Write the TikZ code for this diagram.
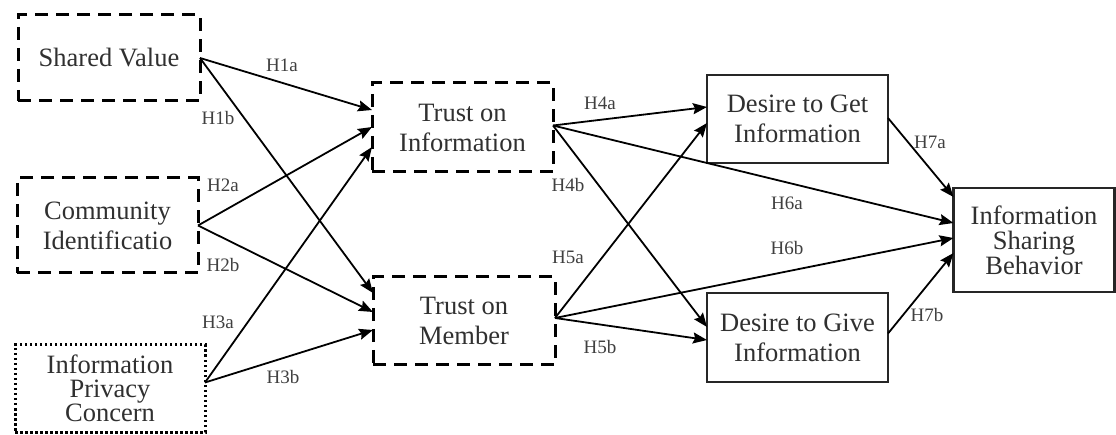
\documentclass[tikz,border=0pt]{standalone}
\usepackage{fontspec}
\setmainfont{Liberation Serif}
\usetikzlibrary{arrows.meta}
\definecolor{txt}{HTML}{303030}
\definecolor{lbl}{HTML}{404040}
\tikzset{
  basebox/.style={rectangle, inner sep=0pt, outer sep=0pt, align=center, text=txt,
    font=\fontsize{26.5}{30}\selectfont},
  dbox/.style={basebox, draw=black, line width=3pt, dash pattern=on 13pt off 8pt},
  pbox/.style={basebox, draw=black, line width=3pt, dash pattern=on 2.5pt off 2.5pt},
  sbox/.style={basebox, draw=black!85, line width=2.2pt},
  arr/.style={draw=black, line width=1.8pt, -{Stealth[length=14pt,width=11pt,inset=2pt]}},
  hlab/.style={text=lbl, font=\fontsize{19}{20}\selectfont, inner sep=0pt}
}
\begin{document}
\begin{tikzpicture}[x=1pt,y=-1pt]
\useasboundingbox[fill=white] (0,0) rectangle (1116,435);
% boxes
\node[dbox, minimum width=182pt, minimum height=86pt] (sv) at (109,58) {Shared Value};
\node[dbox, minimum width=181pt, minimum height=95pt] (ci) at (107.5,225.5) {Community\\Identificatio};
\node[pbox, minimum width=190pt, minimum height=87pt, font=\fontsize{26.5}{24}\selectfont] (ipc) at (110,388.5) {Information\\Privacy\\Concern};
\node[dbox, minimum width=181pt, minimum height=89pt] (ti) at (462.5,127.5) {Trust on\\Information};
\node[dbox, minimum width=182pt, minimum height=88pt] (tm) at (464,321) {Trust on\\Member};
\node[sbox, minimum width=181pt, minimum height=88pt] (dg) at (797.5,119) {Desire to Get\\Information};
\node[sbox, minimum width=181pt, minimum height=89pt] (dv) at (797.5,337.5) {Desire to Give\\Information};
\node[sbox, minimum width=161pt, minimum height=104pt, font=\fontsize{26.5}{25}\selectfont] (isb) at (1034,240) {Information\\Sharing\\Behavior};
% source points
\coordinate (ipcs) at ([yshift=6pt]ipc.east);
\coordinate (tis) at ([yshift=2pt]ti.east);
\coordinate (tms) at ([yshift=3pt]tm.east);
\coordinate (dgs) at ([yshift=1pt]dg.east);
\coordinate (dvs) at ([yshift=4pt]dv.east);
% arrows
\draw[arr] (sv.east) -- ([yshift=17.5pt]ti.west);
\draw[arr] (ci.east) -- ([yshift=0.5pt]ti.west);
\draw[arr] (ipcs) -- ([yshift=-19.5pt]ti.west);
\draw[arr] (sv.east) -- ([yshift=28pt]tm.west);
\draw[arr] (ci.east) -- ([yshift=9pt]tm.west);
\draw[arr] (ipcs) -- ([yshift=-9pt]tm.west);
\draw[arr] (tis) -- ([yshift=12pt]dg.west);
\draw[arr] (tms) -- ([yshift=-4pt]dg.west);
\draw[arr] (tis) -- ([yshift=17pt]isb.west);
\draw[arr] (tis) -- ([yshift=10.5pt]dv.west);
\draw[arr] (tms) -- ([yshift=-2.5pt]dv.west);
\draw[arr] (tms) -- ([yshift=2pt]isb.west);
\draw[arr] (dgs) -- ([yshift=43pt]isb.west);
\draw[arr] (dvs) -- ([yshift=-13pt]isb.west);
% labels
\node[hlab] (l1a) at (282,65) {H1a};
\node[hlab] (l1b) at (218,118) {H1b};
\node[hlab] (l2a) at (223,185) {H2a};
\node[hlab] (l2b) at (223,265) {H2b};
\node[hlab] (l3a) at (218,322) {H3a};
\node[hlab] (l3b) at (283,377) {H3b};
\node[hlab] (l4a) at (600,103) {H4a};
\node[hlab] (l4b) at (568,185) {H4b};
\node[hlab] (l5a) at (568,257) {H5a};
\node[hlab] (l5b) at (600,347) {H5b};
\node[hlab] (l6a) at (787,203) {H6a};
\node[hlab] (l6b) at (787,248) {H6b};
\node[hlab] (l7a) at (930,142) {H7a};
\node[hlab] (l7b) at (927,315) {H7b};
\end{tikzpicture}
\end{document}
